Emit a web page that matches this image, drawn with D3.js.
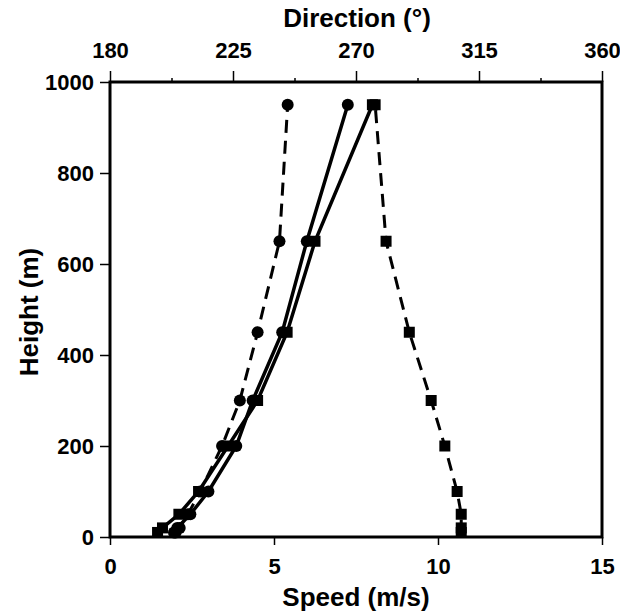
<!DOCTYPE html>
<html>
<head>
<meta charset="utf-8">
<script src="https://cdn.jsdelivr.net/npm/d3@7"></script>
<style>
  body { margin: 0; background: #fff; }
  text { font-family: "Liberation Sans", Arial, sans-serif; font-weight: bold; fill: #000; }
</style>
</head>
<body>
<svg width="620" height="611"></svg>
<script>
// heights (m) of the profile levels
var heights = [10, 20, 50, 100, 200, 300, 450, 650, 950];

// wind speed (m/s), solid lines
var speedCircle = [1.95, 2.05, 2.45, 3.0, 3.85, 4.35, 5.25, 6.0, 7.25];
var speedSquare = [1.45, 1.6, 2.1, 2.7, 3.6, 4.5, 5.4, 6.25, 8.0];

// wind direction (deg), dashed lines
var dirCircle = [204, 205.5, 208.5, 213, 221, 227.5, 234, 242, 245];
var dirSquare = [308.5, 308.5, 308.5, 307, 302.5, 297.5, 289.5, 281, 277];

var speedTicks = [0, 5, 10, 15];
var dirTicks = [180, 225, 270, 315, 360];
var dirMinor = [202.5, 247.5, 292.5, 337.5];
var heightTicks = [0, 200, 400, 600, 800, 1000];

var svg = d3.select("svg");
var plotLeft = 110, plotRight = 602, plotTop = 82, plotBottom = 537;

var x = d3.scaleLinear().domain([0, 15]).range([plotLeft, plotRight]);
var xDir = d3.scaleLinear().domain([180, 360]).range([plotLeft, plotRight]);
var y = d3.scaleLinear().domain([0, 1000]).range([plotBottom, plotTop]);

function pairs(vals) {
  return vals.map(function(v, i) { return {v: v, h: heights[i]}; });
}

var series = [
  {vals: pairs(dirCircle), sc: xDir, dash: "13,8", shape: "circle"},
  {vals: pairs(dirSquare), sc: xDir, dash: "13,8", shape: "square"},
  {vals: pairs(speedCircle), sc: x, dash: null, shape: "circle"},
  {vals: pairs(speedSquare), sc: x, dash: null, shape: "square"}
];

// axes
svg.append("g")
    .attr("transform", "translate(0," + plotBottom + ")")
    .call(d3.axisBottom(x).tickValues(speedTicks).tickSize(8).tickPadding(13));
svg.append("g")
    .attr("transform", "translate(0," + plotTop + ")")
    .call(d3.axisTop(xDir).tickValues(dirTicks).tickSize(11).tickPadding(13));
svg.append("g")
    .attr("transform", "translate(0," + plotTop + ")")
    .call(d3.axisTop(xDir).tickValues(dirMinor).tickSize(4).tickFormat(""));
svg.append("g")
    .attr("transform", "translate(" + plotLeft + ",0)")
    .call(d3.axisLeft(y).tickValues(heightTicks).tickSize(10).tickPadding(6).tickFormat(d3.format("d")));

svg.selectAll(".domain").remove();
svg.selectAll(".tick line").attr("stroke", "#000").attr("stroke-width", 1.5);
svg.selectAll(".tick text")
    .style("font-size", "22px")
    .style("font-family", "'Liberation Sans', Arial, sans-serif")
    .style("font-weight", "bold")
    .attr("fill", "#000");

// frame
svg.append("rect")
    .attr("x", plotLeft)
    .attr("y", plotTop)
    .attr("width", plotRight - plotLeft)
    .attr("height", plotBottom - plotTop)
    .attr("fill", "none")
    .attr("stroke", "#000")
    .attr("stroke-width", 3);

// lines and markers
series.forEach(function(s) {
  var ln = d3.line()
      .x(function(d) { return s.sc(d.v); })
      .y(function(d) { return y(d.h); });
  svg.append("path")
      .datum(s.vals)
      .attr("d", ln)
      .attr("fill", "none")
      .attr("stroke", "#000")
      .attr("stroke-width", s.dash ? 3 : 3.5)
      .attr("stroke-dasharray", s.dash);

  if (s.shape == "circle") {
    svg.selectAll(null).data(s.vals)
        .enter().append("circle")
        .attr("cx", function(d) { return s.sc(d.v); })
        .attr("cy", function(d) { return y(d.h); })
        .attr("r", 6)
        .attr("fill", "#000");
  } else {
    svg.selectAll(null).data(s.vals)
        .enter().append("rect")
        .attr("x", function(d) { return s.sc(d.v) - 5.5; })
        .attr("y", function(d) { return y(d.h) - 5.5; })
        .attr("width", 11)
        .attr("height", 11)
        .attr("fill", "#000");
  }
});

// titles
svg.append("text")
    .attr("x", 357)
    .attr("y", 27)
    .attr("text-anchor", "middle")
    .style("font-size", "26px")
    .text("Direction (°)");

svg.append("text")
    .attr("x", 356)
    .attr("y", 606)
    .attr("text-anchor", "middle")
    .style("font-size", "26px")
    .text("Speed (m/s)");

svg.append("text")
    .attr("transform", "translate(38,312) rotate(-90)")
    .attr("text-anchor", "middle")
    .style("font-size", "26px")
    .text("Height (m)");
</script>
</body>
</html>
